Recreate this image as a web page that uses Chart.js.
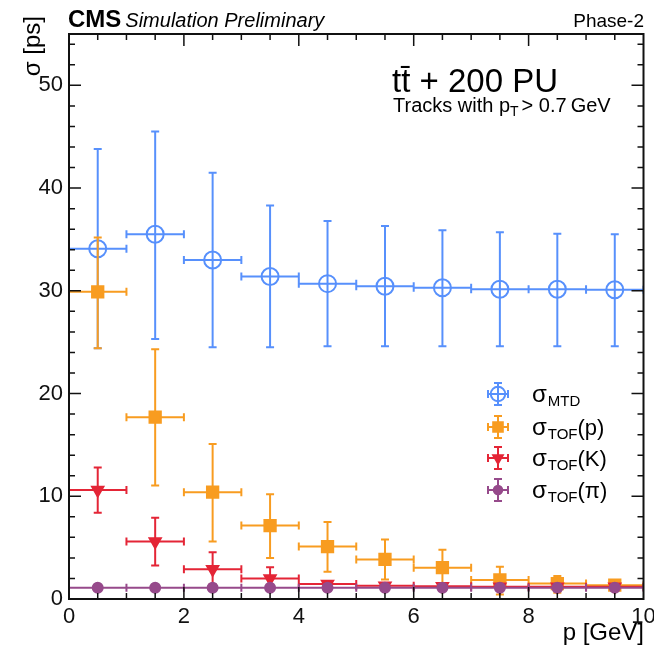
<!DOCTYPE html>
<html>
<head>
<meta charset="utf-8">
<script src="https://cdn.jsdelivr.net/npm/chart.js@4.4.1/dist/chart.umd.min.js"></script>
<style>
  html, body { margin: 0; padding: 0; background: #fff; }
  canvas { display: block; }
</style>
</head>
<body>
<canvas id="chart" width="654" height="654"></canvas>
<script>
// bins in p [GeV]
const binCenters = [0.5, 1.5, 2.5, 3.5, 4.5, 5.5, 6.5, 7.5, 8.5, 9.5];
const binHalfWidth = 0.5;

// sigma_MTD
const mtdValues = [34.1, 35.5, 33.0, 31.4, 30.7, 30.45, 30.3, 30.15, 30.15, 30.1];
const mtdHigh   = [43.8, 45.5, 41.5, 38.3, 36.8, 36.3, 35.9, 35.7, 35.55, 35.5];
const mtdLow    = [24.4, 25.3, 24.5, 24.5, 24.6, 24.6, 24.6, 24.6, 24.6, 24.6];

// sigma_TOF(p)
const protonValues = [29.9, 17.7, 10.4, 7.15, 5.1, 3.85, 3.05, 1.85, 1.5, 1.35];
const protonHigh   = [35.2, 24.3, 15.1, 10.2, 7.5, 5.8, 4.8, 3.15, 2.25, 1.65];
const protonLow    = [24.4, 11.05, 5.6, 4.0, 2.65, 1.9, 1.5, 0.45, 0.6, 1.05];

// sigma_TOF(K)
const kaonValues = [10.6, 5.6, 2.9, 2.0, 1.45, 1.3, 1.25, 1.2, 1.2, 1.2];
const kaonHigh   = [12.8, 7.9, 4.55, 3.1, 1.75, 1.5, 1.45, 1.4, 1.4, 1.4];
const kaonLow    = [8.4, 3.25, 1.4, 1.0, 1.15, 1.1, 1.05, 1.0, 1.0, 1.0];

// sigma_TOF(pi)
const pionValues = [1.1, 1.1, 1.1, 1.1, 1.1, 1.1, 1.1, 1.1, 1.1, 1.1];
const pionHigh   = [1.2, 1.2, 1.2, 1.2, 1.2, 1.2, 1.2, 1.2, 1.2, 1.2];
const pionLow    = [1.0, 1.0, 1.0, 1.0, 1.0, 1.0, 1.0, 1.0, 1.0, 1.0];

const xTicks = [0, 2, 4, 6, 8, 10];
const yTicks = [0, 10, 20, 30, 40, 50];

const BLUE = "#5790fc";
const ORANGE = "#f89c20";
const RED = "#e42536";
const PURPLE = "#964a8b";
const FONT = "'Liberation Sans', Arial, Helvetica, sans-serif";

const series = [
  { name: "MTD", sub: "MTD", tail: "", values: mtdValues, high: mtdHigh, low: mtdLow, color: BLUE,
    style: "circle", radius: 8.5, fill: "rgba(0,0,0,0)", rotation: 0 },
  { name: "p", sub: "TOF", tail: "(p)", values: protonValues, high: protonHigh, low: protonLow, color: ORANGE,
    style: "rect", radius: 8, fill: ORANGE, rotation: 0 },
  { name: "K", sub: "TOF", tail: "(K)", values: kaonValues, high: kaonHigh, low: kaonLow, color: RED,
    style: "triangle", radius: 6.5, fill: RED, rotation: 180 },
  { name: "pi", sub: "TOF", tail: "(\u03c0)", values: pionValues, high: pionHigh, low: pionLow, color: PURPLE,
    style: "circle", radius: 5, fill: PURPLE, rotation: 0 }
];

const errorBars = {
  id: "errorBars",
  beforeDatasetDraw(chart, args) {
    const s = series[args.index];
    const xs = chart.scales.x, ys = chart.scales.y;
    const ctx = chart.ctx;
    const area = chart.chartArea;
    ctx.save();
    ctx.beginPath();
    ctx.rect(area.left, area.top, area.right - area.left, area.bottom - area.top);
    ctx.clip();
    ctx.strokeStyle = s.color;
    ctx.lineWidth = 2;
    ctx.beginPath();
    binCenters.forEach((x, i) => {
      const px = xs.getPixelForValue(x);
      const py = ys.getPixelForValue(s.values[i]);
      const x0 = xs.getPixelForValue(x - binHalfWidth);
      const x1 = xs.getPixelForValue(x + binHalfWidth);
      const yHi = ys.getPixelForValue(s.high[i]);
      const yLo = ys.getPixelForValue(s.low[i]);
      ctx.moveTo(x0, py); ctx.lineTo(x1, py);
      ctx.moveTo(x0, py - 4); ctx.lineTo(x0, py + 4);
      ctx.moveTo(x1, py - 4); ctx.lineTo(x1, py + 4);
      ctx.moveTo(px, yHi); ctx.lineTo(px, yLo);
      ctx.moveTo(px - 4, yHi); ctx.lineTo(px + 4, yHi);
      ctx.moveTo(px - 4, yLo); ctx.lineTo(px + 4, yLo);
    });
    ctx.stroke();
    ctx.restore();
  }
};

const frameAndText = {
  id: "frameAndText",
  afterDraw(chart) {
    const ctx = chart.ctx;
    const xs = chart.scales.x, ys = chart.scales.y;
    const a = chart.chartArea;
    ctx.save();

    // inward ticks on all four sides
    ctx.strokeStyle = "#111";
    ctx.lineWidth = 1.5;
    ctx.beginPath();
    for (let v = 0.5; v < 10; v += 0.5) {
      const px = xs.getPixelForValue(v);
      const len = v % 2 === 0 ? 12 : 6;
      ctx.moveTo(px, a.bottom); ctx.lineTo(px, a.bottom - len);
      ctx.moveTo(px, a.top); ctx.lineTo(px, a.top + len);
    }
    for (let v = 2; v < 55; v += 2) {
      const py = ys.getPixelForValue(v);
      const len = v % 10 === 0 ? 12 : 6;
      ctx.moveTo(a.left, py); ctx.lineTo(a.left + len, py);
      ctx.moveTo(a.right, py); ctx.lineTo(a.right - len, py);
    }
    ctx.stroke();

    ctx.lineWidth = 2;
    ctx.strokeRect(a.left, a.top, a.right - a.left, a.bottom - a.top);

    // header
    ctx.fillStyle = "#000";
    ctx.textBaseline = "alphabetic";
    ctx.textAlign = "left";
    ctx.font = "bold 24px " + FONT;
    ctx.fillText("CMS", 68, 27);
    const cmsW = ctx.measureText("CMS").width;
    ctx.font = "italic 20px " + FONT;
    ctx.fillText("Simulation Preliminary", 68 + cmsW + 4, 27);
    ctx.textAlign = "right";
    ctx.font = "19px " + FONT;
    ctx.fillText("Phase-2", 644, 27);

    // process label
    ctx.textAlign = "left";
    ctx.font = "33px " + FONT;
    ctx.fillText("tt\u0304 + 200 PU", 392, 92);
    ctx.font = "20px " + FONT;
    let tx = 393;
    const by = 112;
    ctx.fillText("Tracks with p", tx, by);
    tx += ctx.measureText("Tracks with p").width;
    ctx.font = "14px " + FONT;
    ctx.fillText("T", tx, by + 4);
    tx += ctx.measureText("T").width + 3;
    ctx.font = "20px " + FONT;
    ctx.fillText("> 0.7\u2009GeV", tx, by);

    // axis titles
    ctx.font = "24px " + FONT;
    ctx.textAlign = "right";
    ctx.fillText("p [GeV]", 644, 640);
    ctx.save();
    ctx.translate(40, 16);
    ctx.rotate(-Math.PI / 2);
    ctx.textAlign = "right";
    ctx.fillText("\u03c3 [ps]", 0, 0);
    ctx.restore();

    // legend
    const legendX = 498;
    const rowsY = [394, 427, 458, 490];
    series.forEach((s, i) => {
      const y = rowsY[i];
      ctx.strokeStyle = s.color;
      ctx.lineWidth = 2;
      ctx.beginPath();
      ctx.moveTo(legendX - 10, y); ctx.lineTo(legendX + 10, y);
      ctx.moveTo(legendX - 10, y - 4); ctx.lineTo(legendX - 10, y + 4);
      ctx.moveTo(legendX + 10, y - 4); ctx.lineTo(legendX + 10, y + 4);
      ctx.moveTo(legendX, y - 11); ctx.lineTo(legendX, y + 11);
      ctx.moveTo(legendX - 4, y - 11); ctx.lineTo(legendX + 4, y - 11);
      ctx.moveTo(legendX - 4, y + 11); ctx.lineTo(legendX + 4, y + 11);
      ctx.stroke();
      ctx.fillStyle = s.fill;
      ctx.strokeStyle = s.color;
      Chart.helpers.drawPoint(ctx, {
        pointStyle: s.style, radius: s.radius * 0.85, rotation: s.rotation, borderWidth: 2
      }, legendX, y);

      ctx.fillStyle = "#000";
      ctx.textAlign = "left";
      let lx = 532;
      ctx.font = "24px " + FONT;
      ctx.fillText("\u03c3", lx, y + 8);
      lx += ctx.measureText("\u03c3").width + 1;
      ctx.font = "15px " + FONT;
      ctx.fillText(s.sub, lx, y + 12);
      lx += ctx.measureText(s.sub).width;
      ctx.font = "22px " + FONT;
      ctx.fillText(s.tail, lx, y + 8);
    });

    ctx.restore();
  }
};

const datasets = series.map((s, i) => ({
  label: s.name,
  data: binCenters.map((x, j) => ({ x: x, y: s.values[j] })),
  pointStyle: s.style,
  pointRadius: s.radius,
  pointHoverRadius: s.radius,
  pointRotation: s.rotation,
  backgroundColor: s.fill,
  borderColor: s.color,
  borderWidth: 2,
  showLine: false,
  order: 3 - i
}));

new Chart(document.getElementById("chart"), {
  type: "scatter",
  data: { datasets: datasets },
  options: {
    responsive: false,
    animation: false,
    devicePixelRatio: 1,
    layout: { padding: { top: 34, right: 10, left: 0, bottom: 0 } },
    plugins: {
      legend: { display: false },
      tooltip: { enabled: false }
    },
    scales: {
      x: {
        type: "linear",
        min: 0,
        max: 10,
        grid: { display: false, drawTicks: false },
        border: { display: false },
        afterBuildTicks: (scale) => { scale.ticks = xTicks.map(v => ({ value: v })); },
        afterFit: (scale) => { scale.height = 55; scale.paddingLeft = 0; scale.paddingRight = 0; },
        ticks: {
          color: "#111",
          font: { family: FONT, size: 22 },
          padding: 5,
          maxRotation: 0,
          autoSkip: false
        }
      },
      y: {
        type: "linear",
        min: 0,
        max: 55,
        grid: { display: false, drawTicks: false },
        border: { display: false },
        afterBuildTicks: (scale) => { scale.ticks = yTicks.map(v => ({ value: v })); },
        afterFit: (scale) => { scale.width = 69; scale.paddingTop = 0; scale.paddingBottom = 0; },
        ticks: {
          color: "#111",
          font: { family: FONT, size: 22 },
          padding: 6
        }
      }
    }
  },
  plugins: [errorBars, frameAndText]
});
</script>
</body>
</html>
